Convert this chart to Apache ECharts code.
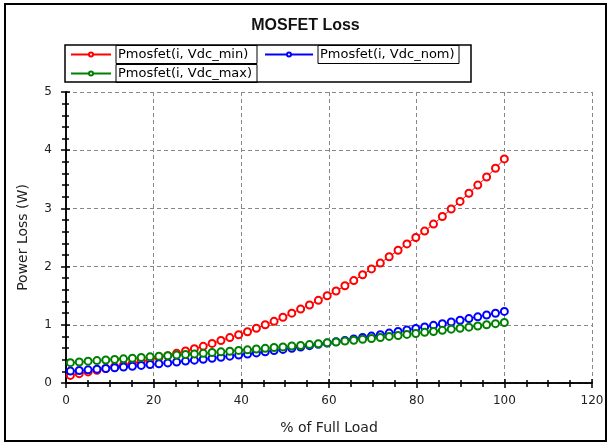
<!DOCTYPE html>
<html>
<head>
<meta charset="utf-8">
<script src="https://cdn.jsdelivr.net/npm/echarts@6/dist/echarts.min.js"></script>
<style>
html,body{margin:0;padding:0;background:#fff;}
#c{width:611px;height:446px;}
</style>
</head>
<body>
<div id="c"></div>
<script>
var loadPct = [1.00,3.02,5.04,7.06,9.08,11.10,13.12,15.14,17.16,19.18,
  21.20,23.22,25.24,27.27,29.29,31.31,33.33,35.35,37.37,39.39,
  41.41,43.43,45.45,47.47,49.49,51.51,53.53,55.55,57.57,59.59,
  61.61,63.63,65.65,67.67,69.69,71.71,73.73,75.76,77.78,79.80,
  81.82,83.84,85.86,87.88,89.90,91.92,93.94,95.96,97.98,100.00];
var vdcMin = [0.13,0.16,0.19,0.22,0.25,0.28,0.31,0.34,0.37,0.40,
  0.44,0.47,0.51,0.55,0.59,0.63,0.68,0.73,0.78,0.83,
  0.88,0.94,1.00,1.06,1.13,1.20,1.27,1.34,1.42,1.50,
  1.58,1.67,1.76,1.86,1.96,2.06,2.17,2.28,2.39,2.50,
  2.61,2.73,2.86,2.99,3.12,3.26,3.40,3.54,3.69,3.85];
var vdcNom = [0.205,0.215,0.226,0.238,0.25,0.262,0.275,0.288,0.302,0.316,
  0.33,0.345,0.36,0.376,0.392,0.408,0.425,0.443,0.461,0.479,
  0.498,0.517,0.537,0.557,0.577,0.598,0.619,0.642,0.664,0.686,
  0.709,0.732,0.757,0.781,0.806,0.831,0.857,0.884,0.91,0.936,
  0.963,0.991,1.02,1.049,1.078,1.107,1.137,1.168,1.199,1.23];
var vdcMax = [0.35,0.36,0.375,0.385,0.395,0.405,0.415,0.425,0.44,0.45,
  0.46,0.47,0.48,0.49,0.50,0.51,0.525,0.535,0.545,0.56,
  0.57,0.585,0.595,0.61,0.62,0.635,0.645,0.66,0.675,0.69,
  0.705,0.72,0.735,0.75,0.765,0.78,0.80,0.815,0.835,0.85,
  0.87,0.885,0.905,0.925,0.94,0.96,0.98,1.00,1.02,1.04];
var seriesNames = ['Pmosfet(i, Vdc_min)','Pmosfet(i, Vdc_nom)','Pmosfet(i, Vdc_max)'];
var seriesColors = ['#ff0000','#0000ff','#008000'];
var xTicks = {min:0, max:120, interval:20};
var yTicks = {min:0, max:5, interval:1};

function pairs(ys){ return loadPct.map(function(x,i){ return [x, ys[i]]; }); }
var allData = [vdcMin, vdcNom, vdcMax];

var FONT = 'DejaVu Sans';
var chart = echarts.init(document.getElementById('c'), null, {renderer:'canvas'});

function legendCfg(name, left, top, iw){
  return {
    data:[name], left:left, top:top, orient:'horizontal', padding:0,
    itemWidth: iw, itemHeight: 5, itemGap: 4,
    selectedMode:false,
    formatter: function(n){ return '{b|' + n + '}'; },
    textStyle:{
      rich:{ b:{ fontFamily:FONT, fontSize:13, color:'#000', borderColor:'#000', borderWidth:1,
                 padding:[3,2,2,2], width: 137, height: 13, lineHeight: 13 } }
    }
  };
}

var baseAxis = {
  axisLine:{show:true, onZero:false, lineStyle:{color:'#000', width:1.5}},
  splitLine:{show:false},
  axisLabel:{show:false},
  minorSplitLine:{show:false}
};

var option = {
  animation:false,
  backgroundColor:'#fff',
  title:{ text:'MOSFET Loss', left:'center', top:13,
    textStyle:{fontFamily:'Liberation Sans', fontSize:16, fontWeight:'bold', color:'#111'} },
  legend:[
    legendCfg(seriesNames[0], 70, 45, 40),
    legendCfg(seriesNames[1], 264, 45, 48),
    legendCfg(seriesNames[2], 70, 64, 40)
  ],
  grid:{ left:66, right:19, top:92, bottom:63, containLabel:false },
  xAxis:[
    { type:'value', min:xTicks.min, max:xTicks.max, interval:xTicks.interval, position:'bottom',
      name:'% of Full Load', nameLocation:'middle', nameGap:38,
      nameTextStyle:{fontFamily:FONT, fontSize:14, color:'#222'},
      axisLine:{show:true, onZero:false, lineStyle:{color:'#000', width:1.5}},
      axisTick:{show:true, inside:false, length:5, lineStyle:{color:'#000', width:1.5}},
      minorTick:{show:true, splitNumber:4, length:4, lineStyle:{color:'#000', width:1.5}},
      axisLabel:{fontFamily:FONT, fontSize:12, color:'#222', margin:12},
      splitLine:{show:true, lineStyle:{color:'#888', type:[4,3], width:1}}
    },
    Object.assign({}, baseAxis, { type:'value', min:xTicks.min, max:xTicks.max, interval:xTicks.interval, position:'bottom',
      axisTick:{show:true, inside:true, length:4, lineStyle:{color:'#000', width:1.5}},
      minorTick:{show:true, splitNumber:4, length:3, lineStyle:{color:'#000', width:1.5}} })
  ],
  yAxis:[
    { type:'value', min:yTicks.min, max:yTicks.max, interval:yTicks.interval, position:'left',
      name:'Power Loss (W)', nameLocation:'middle', nameGap:36, nameRotate:90,
      nameTextStyle:{fontFamily:FONT, fontSize:14, color:'#222'},
      axisLine:{show:true, onZero:false, lineStyle:{color:'#000', width:1.5}},
      axisTick:{show:true, inside:false, length:5, lineStyle:{color:'#000', width:1.5}},
      minorTick:{show:true, splitNumber:5, length:4, lineStyle:{color:'#000', width:1.5}},
      axisLabel:{fontFamily:FONT, fontSize:12, color:'#222', margin:14},
      splitLine:{show:true, lineStyle:{color:'#888', type:[4,3], width:1}}
    },
    Object.assign({}, baseAxis, { type:'value', min:yTicks.min, max:yTicks.max, interval:yTicks.interval, position:'left',
      axisTick:{show:true, inside:true, length:4, lineStyle:{color:'#000', width:1.5}},
      minorTick:{show:true, splitNumber:5, length:3, lineStyle:{color:'#000', width:1.5}} })
  ],
  series: seriesNames.map(function(n, i){
    return {
      name:n, type:'line', xAxisIndex:0, yAxisIndex:0,
      data: pairs(allData[i]),
      symbol:'emptyCircle', symbolSize:7, showAllSymbol:true,
      lineStyle:{color:seriesColors[i], width:1},
      itemStyle:{color:seriesColors[i], borderColor:seriesColors[i], borderWidth:1.2},
      emphasis:{disabled:true}
    };
  }),
  graphic:[
    { type:'rect', shape:{x:5, y:4, width:601, height:437}, style:{fill:'none', stroke:'#000', lineWidth:2}, z:-1, silent:true },
    { type:'rect', shape:{x:65, y:45, width:406, height:37}, style:{fill:'none', stroke:'#000', lineWidth:1.5}, z:100, silent:true }
  ]
};
chart.setOption(option);
</script>
</body>
</html>
